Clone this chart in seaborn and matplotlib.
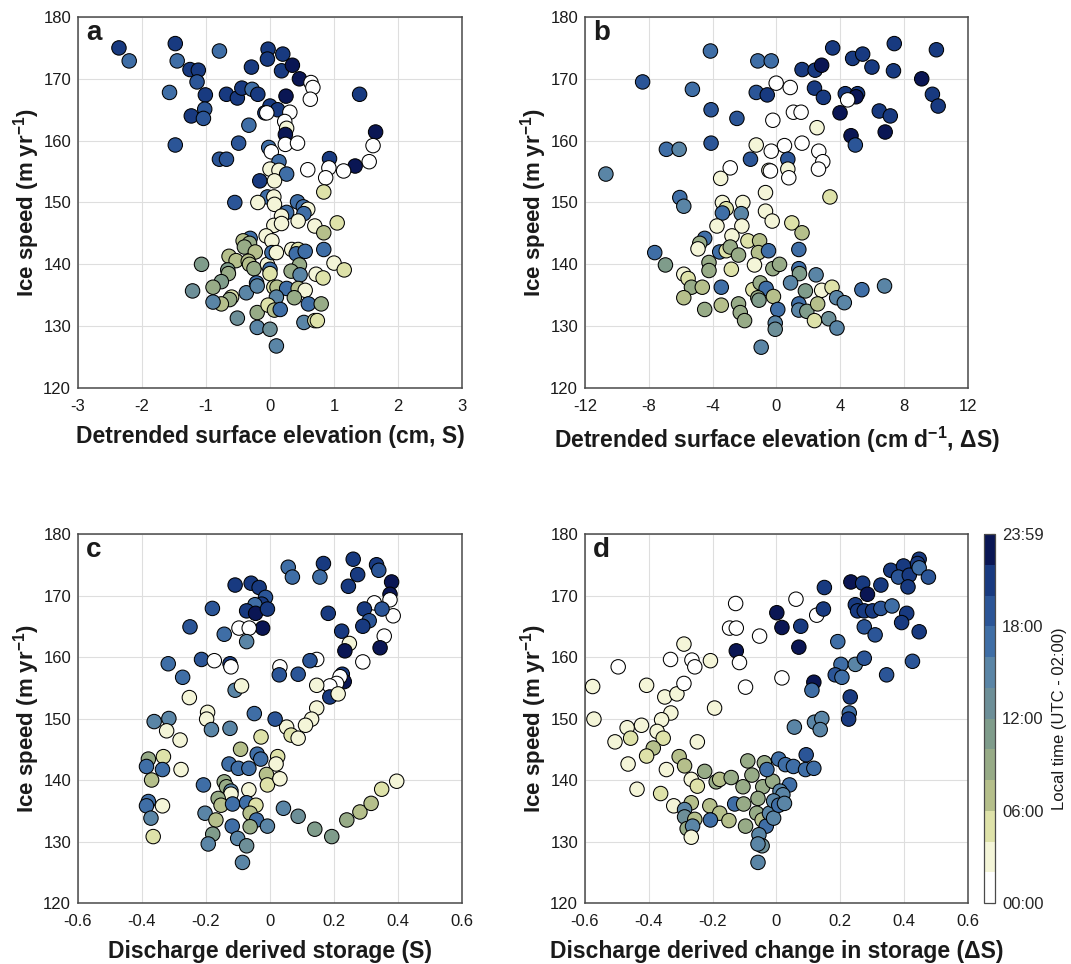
import matplotlib
matplotlib.use("Agg")
import matplotlib.pyplot as plt
import numpy as np
import pandas as pd
import seaborn as sns
from matplotlib.colors import ListedColormap, BoundaryNorm
from matplotlib.cm import ScalarMappable

# ---------------------------------------------------------------- data
# hour = local time of the sample (UTC-2), binned in 2 h classes
a_elev = [-2.36, -2.20, -1.48, -1.45, -1.25, -1.12, -1.14, -1.57, -1.01, -1.23, -1.02, -1.04, -1.48, -0.79, -0.68,
          -0.51, -0.44, -0.28, -0.19, -0.29, -0.03, -0.04, 0.20, 0.18, 0.35, 0.46, 0.64, 0.67, 0.63, 0.25,
          0.00, 0.12, -0.08, -0.05, 0.31, 0.23, 0.26, 0.24, 0.24, 0.43, 1.40, 1.65, 1.61, 1.55, 1.33,
          1.15, 0.93, 0.92, 0.87, 0.59, 0.84, -0.49, -0.33, -0.79, -0.68, -0.55, -0.02, 0.02, 0.14, 0.00,
          0.14, 0.26, -0.16, 0.07, -0.04, 0.06, -0.19, 0.07, 0.43, 0.52, 0.59, 0.26, 0.18, 0.53, 0.44,
          0.06, 0.18, 0.70, 1.05, 0.84, -0.06, 0.03, -0.31, -0.42, -0.32, -0.40, -0.23, -0.64, -0.53, -0.34,
          -0.32, -0.25, -1.07, -0.66, -0.65, -0.76, -0.89, -1.21, -0.60, -0.63, -0.76, -0.89, -0.37, -0.21, -0.20,
          -0.51, -0.20, -0.20, 0.00, 0.10, -0.04, 0.00, 0.00, 0.03, 0.10, 0.34, 0.44, 0.41, 0.55, 0.84,
          1.00, 1.16, 0.46, 0.33, 0.47, 0.72, 0.83, 0.06, 0.11, 0.26, 0.44, 0.55, 0.10, 0.38, -0.03,
          0.07, 0.16, 0.60, 0.80, 0.53, 0.70, 0.74]
a_speed = [175.0, 172.9, 175.7, 172.9, 171.5, 171.4, 169.5, 167.8, 167.4, 164.0, 165.1, 163.6, 159.3, 174.5, 167.5,
           166.9, 168.5, 168.3, 167.5, 171.9, 174.8, 173.2, 174.0, 171.3, 172.2, 170.0, 169.4, 168.6, 166.7, 167.2,
           165.6, 165.0, 164.5, 164.5, 164.6, 163.1, 162.0, 161.0, 159.4, 159.6, 167.5, 161.4, 159.2, 156.6, 155.9,
           155.1, 157.1, 155.6, 154.0, 155.3, 151.7, 159.6, 162.5, 157.0, 157.0, 150.0, 158.9, 158.2, 156.6, 155.4,
           155.2, 154.6, 153.5, 153.5, 150.9, 150.9, 150.0, 149.7, 150.1, 149.3, 148.9, 148.4, 147.8, 148.2, 147.0,
           146.3, 146.6, 146.2, 146.7, 145.1, 144.6, 143.8, 144.2, 143.8, 143.4, 142.8, 142.0, 141.3, 140.6, 140.5,
           140.0, 139.3, 140.0, 139.1, 138.5, 137.2, 136.3, 135.7, 134.7, 134.3, 133.6, 133.9, 135.4, 137.0, 136.5,
           131.3, 132.2, 129.8, 129.5, 126.8, 140.0, 139.2, 138.5, 141.9, 141.9, 142.4, 142.4, 141.7, 142.1, 142.4,
           140.2, 139.1, 139.9, 138.9, 138.3, 138.4, 137.8, 136.3, 136.3, 136.1, 136.1, 135.8, 134.7, 134.6, 133.4,
           132.6, 132.7, 133.6, 133.6, 130.6, 130.9, 130.9]
a_hour = [21, 17, 21, 17, 21, 21, 19, 17, 21, 21, 19, 19, 19, 17, 21,
          21, 21, 17, 21, 21, 21, 21, 21, 21, 23, 23, 1, 1, 1, 23,
          21, 21, 21, 1, 1, 1, 3, 23, 1, 1, 21, 23, 1, 1, 23,
          1, 21, 1, 1, 1, 5, 19, 17, 19, 19, 19, 17, 1, 17, 3,
          3, 17, 21, 3, 17, 3, 3, 3, 17, 17, 3, 17, 3, 17, 3,
          3, 3, 3, 5, 7, 3, 3, 17, 7, 9, 9, 7, 7, 7, 7,
          7, 9, 11, 11, 9, 11, 9, 13, 5, 9, 7, 15, 15, 17, 15,
          13, 9, 15, 13, 15, 3, 17, 5, 17, 3, 3, 5, 17, 17, 17,
          3, 5, 9, 9, 15, 3, 5, 5, 7, 17, 7, 3, 15, 9, 5,
          7, 17, 17, 9, 15, 5, 5]

b_rate = [-4.14, -8.39, -5.27, -4.10, -2.48, -4.10, -6.90, -6.10, -10.69, -6.06, -5.81, -1.17, -0.33, -1.27, -0.58,
          -0.02, 0.86, 1.60, 2.42, 2.83, 3.52, 2.38, 2.94, 4.31, 5.08, 4.98, 4.46, 4.77, 5.40, 5.98,
          7.38, 7.33, 9.10, 10.02, 9.77, 10.13, 6.44, 7.13, 3.98, 6.81, 4.67, 4.94, 1.06, 1.54, -0.23,
          2.54, 1.60, 0.50, -0.33, 2.65, 2.90, 2.63, -1.27, 0.71, -1.63, -2.90, -0.48, -0.38, 0.71, 0.77,
          -3.50, -0.69, 3.35, -3.39, -3.15, -2.11, -2.21, -0.69, -3.39, -0.27, 0.96, 1.60, -3.73, -2.17, -2.79,
          -4.50, -4.81, -4.92, -3.56, -3.15, -2.90, -2.38, -1.79, -1.06, -1.13, -0.50, 1.40, -7.63, -6.96, -4.23,
          -4.23, -2.83, -1.38, -0.23, 0.19, 1.40, 1.44, 2.48, 0.88, 1.81, 2.83, 3.48, 3.77, 4.25, 5.35,
          6.77, -5.81, -5.54, -5.33, -4.65, -3.46, -5.81, -4.50, -3.46, -2.38, -2.27, -2.00, -1.48, -1.02, -0.65,
          -1.17, -1.10, -0.19, 0.08, -0.08, -0.08, -0.96, 1.40, 1.40, 1.90, 2.58, 2.38, 3.27, 3.79]
b_speed = [174.5, 169.5, 168.3, 165.0, 163.6, 159.6, 158.6, 158.6, 154.6, 150.8, 149.4, 172.9, 172.9, 167.8, 167.4,
           169.3, 168.6, 171.5, 171.4, 172.2, 175.0, 168.5, 167.0, 167.6, 167.6, 167.1, 166.6, 173.3, 174.0, 171.9,
           175.7, 171.3, 170.0, 174.7, 167.5, 165.6, 164.8, 164.0, 164.5, 161.4, 160.8, 159.3, 164.6, 164.6, 163.3,
           162.1, 159.6, 159.2, 158.3, 158.3, 156.6, 155.4, 159.3, 157.0, 157.0, 155.6, 155.2, 155.1, 155.4, 154.0,
           153.9, 151.6, 150.9, 150.0, 149.0, 150.0, 148.2, 148.6, 148.3, 147.0, 146.7, 145.1, 146.2, 146.2, 144.6,
           144.2, 143.4, 142.5, 142.0, 142.2, 142.8, 141.5, 143.8, 143.8, 141.9, 142.2, 142.4, 141.9, 139.9, 140.3,
           139.0, 139.2, 139.9, 139.3, 140.0, 139.3, 138.5, 138.3, 137.0, 135.7, 135.8, 136.3, 134.6, 133.8, 135.9,
           136.5, 138.4, 137.7, 136.3, 136.3, 136.3, 134.6, 132.7, 133.4, 133.6, 132.2, 130.9, 135.9, 137.0, 136.1,
           134.6, 134.2, 134.8, 132.7, 130.5, 129.5, 126.6, 133.6, 132.6, 132.4, 133.6, 130.9, 131.2, 129.7]
b_hour = [17, 19, 17, 19, 19, 19, 17, 15, 15, 17, 15, 17, 17, 19, 21,
          1, 1, 21, 21, 23, 21, 21, 21, 21, 21, 23, 1, 21, 21, 21,
          21, 21, 23, 21, 21, 21, 21, 21, 23, 23, 23, 19, 1, 1, 1,
          3, 1, 1, 1, 1, 1, 1, 3, 19, 19, 1, 3, 1, 3, 1,
          3, 3, 5, 3, 5, 3, 15, 3, 17, 3, 5, 7, 3, 3, 3,
          17, 9, 3, 17, 5, 9, 9, 5, 7, 7, 17, 17, 17, 11, 9,
          9, 5, 3, 9, 9, 17, 11, 15, 15, 11, 3, 5, 15, 15, 17,
          15, 3, 5, 9, 7, 17, 7, 9, 7, 9, 9, 9, 5, 9, 17,
          9, 11, 7, 17, 15, 13, 15, 17, 15, 11, 7, 5, 13, 15]

c_storage = [0.057, 0.070, 0.167, 0.156, 0.260, 0.274, 0.245, 0.333, 0.340, 0.380, 0.375, 0.326, 0.375, 0.385, 0.295,
             0.350, 0.182, 0.310, 0.290, 0.224, 0.357, 0.344, 0.248, 0.234, 0.290, 0.226, 0.232, 0.219, 0.208, 0.187,
             0.187, 0.213, 0.146, 0.125, 0.031, 0.029, 0.088, 0.146, 0.146, 0.130, 0.111, 0.052, 0.066, 0.088, -0.109,
             -0.059, -0.034, -0.014, -0.026, -0.047, -0.073, -0.045, -0.008, -0.023, -0.097, -0.065, -0.180, -0.250, -0.143, -0.073,
             -0.214, -0.174, -0.125, -0.122, -0.318, -0.273, -0.109, -0.089, -0.252, -0.195, -0.198, -0.049, 0.016, -0.362, -0.316,
             -0.323, -0.281, -0.183, -0.125, -0.028, -0.092, -0.040, -0.029, 0.024, 0.019, -0.011, -0.008, 0.031, -0.128, -0.099,
             -0.066, -0.208, -0.143, -0.136, -0.122, -0.122, -0.162, -0.153, -0.117, -0.066, -0.073, -0.044, -0.062, -0.042, -0.062,
             -0.203, -0.169, -0.118, -0.008, -0.179, -0.193, -0.101, -0.073, -0.086, -0.380, -0.386, -0.333, -0.336, -0.278, -0.370,
             -0.380, -0.386, -0.336, -0.372, -0.365, 0.042, 0.088, 0.140, 0.193, 0.240, 0.281, 0.316, 0.349, 0.396]
c_speed = [174.6, 173.0, 175.2, 173.0, 175.9, 173.4, 171.5, 175.0, 174.1, 172.2, 170.2, 168.8, 169.3, 166.7, 167.8,
           167.8, 167.1, 165.9, 165.0, 164.2, 163.4, 161.5, 162.2, 161.0, 159.2, 157.2, 156.0, 156.8, 155.7, 155.3,
           153.5, 154.0, 159.6, 159.4, 158.4, 157.1, 157.2, 155.4, 151.7, 149.9, 148.9, 148.6, 147.3, 146.8, 171.7,
           172.0, 171.3, 169.7, 168.6, 168.5, 167.5, 167.1, 167.8, 164.7, 164.7, 164.7, 167.9, 164.9, 163.7, 162.5,
           159.6, 159.4, 158.9, 158.4, 158.9, 156.7, 154.6, 155.3, 153.4, 151.0, 149.9, 150.8, 149.9, 149.5, 150.0,
           148.0, 146.5, 148.2, 148.4, 147.0, 145.0, 144.2, 143.4, 143.8, 142.6, 140.9, 139.2, 140.2, 142.6, 141.9,
           141.9, 139.2, 139.7, 138.9, 138.2, 137.7, 137.0, 135.9, 136.1, 138.4, 136.3, 135.9, 134.6, 133.5, 132.4,
           134.6, 133.5, 132.5, 132.5, 131.2, 129.6, 130.5, 129.3, 126.6, 143.4, 142.2, 143.8, 141.7, 141.7, 140.0,
           136.5, 135.8, 135.8, 133.8, 130.8, 135.4, 134.1, 132.0, 130.8, 133.5, 134.8, 136.2, 138.5, 139.8]
c_hour = [17, 17, 21, 17, 21, 21, 21, 21, 19, 23, 23, 1, 1, 1, 21,
          19, 21, 19, 21, 21, 1, 23, 3, 23, 1, 21, 23, 1, 1, 1,
          21, 3, 1, 19, 1, 19, 19, 3, 3, 3, 3, 3, 5, 3, 21,
          21, 21, 19, 21, 17, 21, 23, 21, 23, 1, 1, 19, 19, 17, 15,
          19, 1, 21, 1, 17, 17, 15, 3, 3, 3, 3, 17, 19, 15, 15,
          3, 3, 15, 15, 5, 7, 17, 17, 5, 3, 7, 5, 3, 17, 17,
          17, 17, 9, 9, 15, 3, 9, 7, 17, 3, 17, 5, 7, 17, 9,
          15, 7, 17, 15, 11, 15, 15, 13, 15, 9, 17, 5, 17, 3, 7,
          17, 17, 3, 15, 5, 15, 13, 11, 11, 9, 7, 7, 5, 3]

d_change = [-0.576, -0.572, -0.496, -0.407, -0.350, -0.312, -0.290, -0.290, -0.332, -0.265, -0.256, -0.207, -0.194, -0.331, -0.360,
            -0.423, -0.468, -0.374, -0.128, -0.147, -0.126, -0.053, -0.126, -0.116, 0.017, -0.097, 0.061, 0.001, 0.017, 0.076,
            0.070, 0.126, 0.147, 0.150, 0.117, 0.111, 0.192, 0.202, 0.184, 0.205, 0.247, 0.275, 0.231, 0.228, 0.226,
            0.275, 0.309, 0.233, 0.270, 0.327, 0.285, 0.247, 0.254, 0.275, 0.301, 0.327, 0.362, 0.408, 0.392, 0.447,
            0.426, 0.345, 0.358, 0.398, 0.382, 0.416, 0.412, 0.447, 0.442, 0.447, 0.476, 0.056, 0.119, 0.142, 0.137,
            -0.355, -0.506, -0.457, -0.248, -0.386, -0.407, -0.465, -0.345, -0.305, -0.288, -0.437, -0.363, -0.322, -0.267, -0.248,
            -0.225, -0.189, -0.178, -0.142, -0.267, -0.288, -0.288, -0.256, -0.280, -0.263, -0.267, -0.209, -0.178, -0.207, -0.149,
            -0.131, -0.103, -0.105, -0.090, -0.077, -0.043, -0.012, -0.058, -0.097, -0.062, -0.045, -0.032, -0.022, -0.009, -0.038,
            -0.030, 0.007, 0.028, 0.053, 0.093, 0.091, 0.117, 0.041, 0.011, 0.020, -0.009, 0.007, 0.025, -0.055, -0.045,
            -0.058, -0.058]
d_speed = [155.2, 149.9, 158.4, 155.4, 153.5, 154.0, 155.7, 162.1, 159.6, 159.5, 158.4, 159.4, 151.7, 150.9, 149.8,
           148.9, 148.5, 147.9, 168.7, 164.7, 164.7, 163.4, 161.0, 159.1, 156.6, 155.1, 169.4, 167.2, 164.8, 165.0,
           161.6, 166.8, 167.8, 171.3, 155.9, 154.6, 162.5, 158.8, 157.1, 156.7, 158.8, 159.8, 153.5, 150.9, 149.9,
           164.9, 163.6, 172.2, 172.0, 171.7, 170.2, 168.5, 167.5, 167.5, 167.5, 167.9, 168.3, 167.1, 165.6, 164.1,
           159.3, 157.1, 174.1, 174.8, 173.0, 173.3, 171.4, 175.9, 175.2, 174.5, 173.0, 148.6, 149.4, 150.0, 148.2,
           146.8, 146.2, 146.8, 146.2, 145.2, 143.9, 142.6, 141.7, 143.8, 142.3, 138.5, 137.8, 135.8, 140.1, 139.0,
           141.4, 139.7, 140.1, 140.4, 136.3, 135.2, 134.0, 133.6, 132.1, 132.5, 130.7, 135.8, 134.6, 133.5, 133.4,
           136.1, 136.1, 138.9, 143.1, 140.8, 138.9, 139.8, 137.0, 132.5, 134.6, 133.5, 132.5, 134.6, 133.8, 142.8,
           141.7, 143.4, 142.5, 142.2, 144.1, 141.7, 141.9, 139.2, 138.2, 137.6, 136.6, 135.9, 136.2, 131.1, 129.3,
           129.6, 126.6]
d_hour = [3, 3, 1, 3, 3, 3, 1, 3, 1, 1, 1, 3, 3, 3, 3,
          3, 3, 3, 1, 1, 1, 1, 23, 1, 1, 1, 1, 23, 23, 21,
          23, 1, 21, 21, 23, 17, 17, 17, 19, 17, 15, 19, 21, 17, 21,
          19, 19, 23, 21, 21, 23, 21, 21, 21, 21, 19, 17, 21, 21, 21,
          19, 19, 21, 21, 19, 21, 21, 21, 21, 17, 19, 15, 15, 15, 15,
          5, 3, 5, 3, 7, 5, 3, 3, 7, 7, 3, 5, 3, 3, 5,
          9, 9, 7, 9, 7, 15, 13, 7, 9, 15, 3, 7, 7, 17, 7,
          17, 9, 9, 9, 9, 9, 9, 9, 9, 9, 7, 17, 15, 15, 9,
          17, 17, 17, 17, 19, 17, 17, 17, 15, 15, 15, 17, 15, 15, 13,
          15, 15]

# 2-hour colour classes, 00:00 (white) to 23:59 (dark navy)
time_colors = ["#ffffff", "#f4f5d8", "#dee2a9", "#b5bf8b", "#97ab87", "#7f9c8b",
               "#6d8f98", "#5a85a6", "#3f6ea6", "#2b5597", "#183a80", "#0a1654"]
time_bounds = list(range(0, 26, 2))
time_ticks = [0, 6, 12, 18, 24]
time_ticklabels = ["00:00", "06:00", "12:00", "18:00", "23:59"]

# ---------------------------------------------------------------- style
sns.set_style("white")
plt.rcParams["font.family"] = ["Liberation Sans", "DejaVu Sans"]
plt.rcParams["axes.unicode_minus"] = False
plt.rcParams["mathtext.fontset"] = "custom"
plt.rcParams["mathtext.rm"] = "Liberation Sans"
plt.rcParams["mathtext.bf"] = "Liberation Sans:bold"
plt.rcParams["text.color"] = "#1a1a1a"
plt.rcParams["axes.labelcolor"] = "#1a1a1a"

cmap = ListedColormap(time_colors)
norm = BoundaryNorm(time_bounds, cmap.N)

W, H = 1071, 964
fig = plt.figure(figsize=(W / 100, H / 100), dpi=100)


def box(left, top, right, bottom):
    return [left / W, 1 - bottom / H, (right - left) / W, (bottom - top) / H]


panels = [
    dict(pos=box(78, 17, 462, 388), x=a_elev, y=a_speed, h=a_hour, letter="a",
         xlim=(-3, 3), xticks=np.arange(-3, 4, 1),
         xlabel="Detrended surface elevation (cm, S)"),
    dict(pos=box(585, 17, 968, 388), x=b_rate, y=b_speed, h=b_hour, letter="b",
         xlim=(-12, 12), xticks=np.arange(-12, 13, 4),
         xlabel="Detrended surface elevation (cm d$^{\\mathbf{-1}}$, \u0394S)"),
    dict(pos=box(78, 534, 462, 903), x=c_storage, y=c_speed, h=c_hour, letter="c",
         xlim=(-0.6, 0.6), xticks=np.round(np.arange(-0.6, 0.61, 0.2), 1),
         xlabel="Discharge derived storage (S)"),
    dict(pos=box(585, 534, 968, 903), x=d_change, y=d_speed, h=d_hour, letter="d",
         xlim=(-0.6, 0.6), xticks=np.round(np.arange(-0.6, 0.61, 0.2), 1),
         xlabel="Discharge derived change in storage (\u0394S)"),
]

frame_col = "#4a4a4a"
for p in panels:
    ax = fig.add_axes(p["pos"])
    df = pd.DataFrame({"x": p["x"], "speed": p["y"], "hour": np.asarray(p["h"], float)})
    ax.grid(True, color="#dedede", linewidth=0.8)
    ax.set_axisbelow(True)
    sns.scatterplot(data=df, x="x", y="speed", hue="hour", palette=cmap, hue_norm=norm,
                    s=108, edgecolor="black", linewidth=0.75, legend=False, ax=ax, zorder=3)
    ax.set_xlim(*p["xlim"])
    ax.set_ylim(120, 180)
    ax.set_xticks(p["xticks"])
    ax.set_xticklabels(["0" if v == 0 else f"{v:g}" for v in p["xticks"]])
    ax.set_yticks(np.arange(120, 181, 10))
    ax.tick_params(axis="x", labelsize=12, direction="in", length=3, width=0.8,
                   color=frame_col, labelcolor="#1a1a1a", pad=8)
    ax.tick_params(axis="y", labelsize=12, direction="in", length=3, width=0.8,
                   color=frame_col, labelcolor="#1a1a1a", pad=5)
    for s in ax.spines.values():
        s.set_visible(True)
        s.set_color(frame_col)
        s.set_linewidth(1.1)
    ax.set_xlabel(p["xlabel"], fontsize=16.5, fontweight="bold", labelpad=8)
    ax.set_ylabel("Ice speed (m yr$^{\\mathbf{-1}}$)", fontsize=16, fontweight="bold", labelpad=0.5)
    ax.text(0.021, 0.938, p["letter"], transform=ax.transAxes, fontsize=20,
            fontweight="bold", va="baseline", ha="left", zorder=5)

cax = fig.add_axes(box(984, 534, 995, 903))
cb = fig.colorbar(ScalarMappable(norm=norm, cmap=cmap), cax=cax, ticks=time_ticks)
cb.ax.minorticks_off()
cb.ax.set_yticklabels(time_ticklabels)
cb.ax.tick_params(labelsize=12, direction="in", length=3, color=frame_col, pad=5)
cb.outline.set_edgecolor(frame_col)
cb.outline.set_linewidth(0.9)
cb.set_label("Local time (UTC - 02:00)", fontsize=12, labelpad=6)

fig.savefig("out.png", dpi=100)
